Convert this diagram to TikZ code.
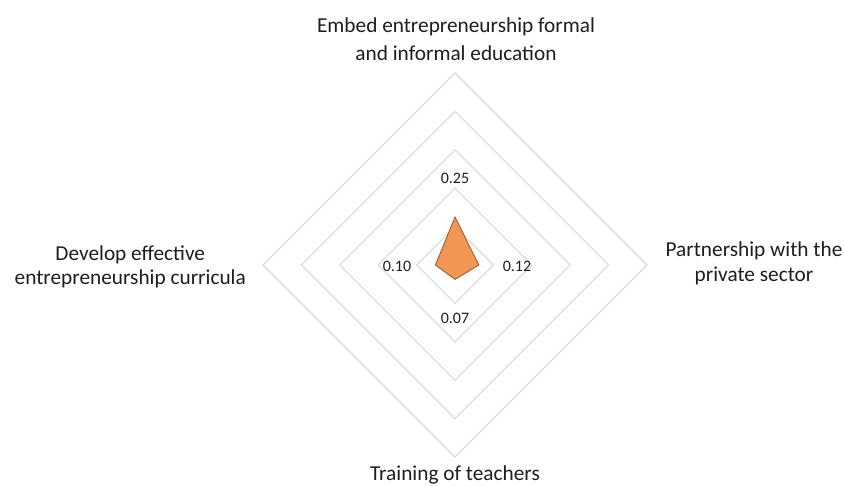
\documentclass[tikz,border=0pt]{standalone}
\usepackage{fontspec}
\setmainfont{Carlito}
\usepackage{tikz}
\usetikzlibrary{calc, positioning}

\definecolor{gridgray}{RGB}{217,217,217}
\definecolor{dataorange}{RGB}{241,151,86}
\definecolor{databrown}{RGB}{150,85,45}
\definecolor{textgray}{RGB}{30,30,30}

\begin{document}
\begin{tikzpicture}
			[x=1pt, y=-1pt,
			axislabel/.style={text=textgray, align=center, inner sep=0pt, font=\fontsize{21.3}{26}\selectfont},
			valuelabel/.style={text=textgray, inner sep=0pt, font=\fontsize{16}{19}\selectfont},
			gridline/.style={draw=gridgray, line width=1.1pt},
			datapoly/.style={fill=dataorange, draw=databrown, line width=.8pt, line join=miter}]
			\useasboundingbox (0,0) rectangle (845,485);
			\coordinate (c) at (455,265);

			% grid %
			\foreach \r in {38.4,76.8,115.2,153.6,192}
				\draw[gridline] ($(c)+(0,-\r)$) -- ($(c)+(\r,0)$) -- ($(c)+(0,\r)$) -- ($(c)+(-\r,0)$) -- cycle;

			% data %
			\coordinate (pe) at ($(c)+(0,-48)$);
			\coordinate (pp) at ($(c)+(23.8,0)$);
			\coordinate (pt) at ($(c)+(0,14.4)$);
			\coordinate (pd) at ($(c)+(-19.6,0)$);
			\draw[datapoly] (pe) -- (pp) -- (pt) -- (pd) -- cycle;

			% nodes %
			\node[axislabel, anchor=base, font=\fontsize{21.3}{28}\selectfont] (embed) at (456,60.5) {Embed entrepreneurship formal\\and informal education};
			\node[axislabel, anchor=base, font=\fontsize{21.3}{25}\selectfont] (partner) at (754,281) {Partnership with the\\private sector};
			\node[axislabel, anchor=base] (train) at (455,480) {Training of teachers};
			\node[axislabel, anchor=base east, font=\fontsize{21.3}{24}\selectfont] (develop) at (246,284) {Develop effective\\entrepreneurship curricula};

			\node[valuelabel] (vembed) at (455,178.5) {0.25};
			\node[valuelabel] (vpartner) at (517,266) {0.12};
			\node[valuelabel] (vtrain) at (455,318) {0.07};
			\node[valuelabel] (vdevelop) at (397,266) {0.10};
\end{tikzpicture}
\end{document}
